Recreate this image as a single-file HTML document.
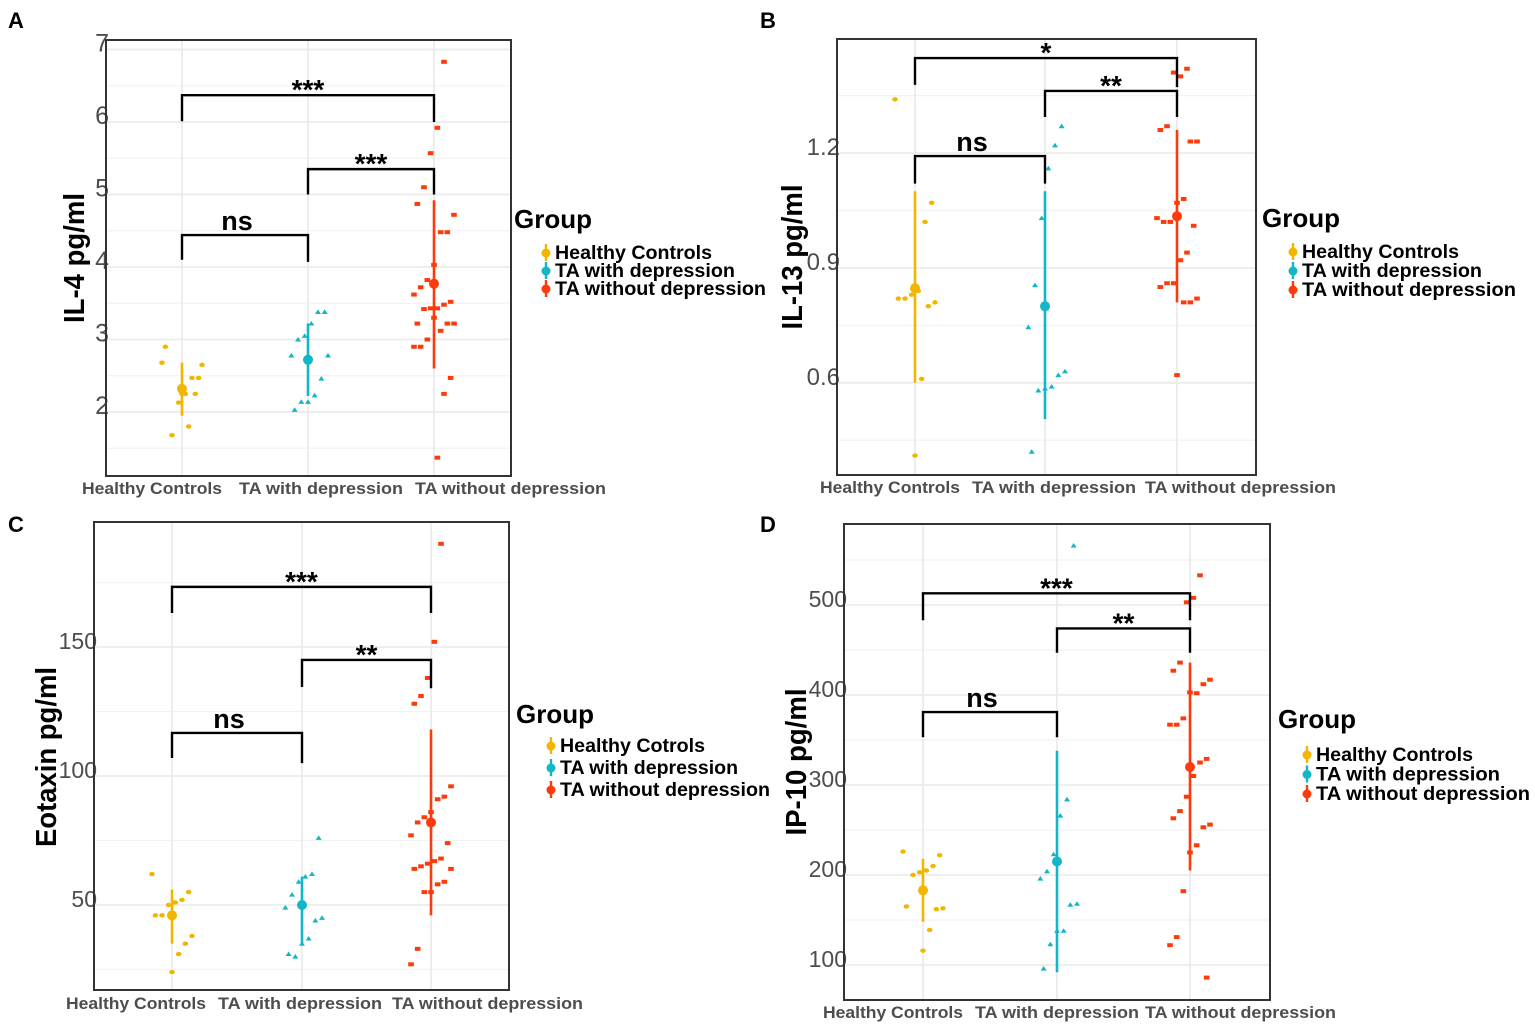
<!DOCTYPE html>
<html><head><meta charset="utf-8"><style>
html,body{margin:0;padding:0;background:#fff;}
svg{display:block;font-family:"Liberation Sans",Arial,sans-serif;}
</style></head><body>
<svg id="fig" width="1535" height="1028" viewBox="0 0 1535 1028" xmlns="http://www.w3.org/2000/svg"></svg>
<script>
// ===== Shared =====
const groups = ["Healthy Controls","TA with depression","TA without depression"];
const colors = ["#f2b600","#12b6c6","#fd3a0c"];

// ===== Panel A: IL-4 =====
const aTicks = [2,3,4,5,6,7];
const aHC = [2.68,2.47,2.47,2.25,2.13,1.68,2.9,2.65,2.25,1.8,2.25];
const aTAw = [3.38,3.38,3.22,3.05,3.0,2.78,2.78,2.46,2.23,2.14,2.14,2.03];
const aTAwo = [6.83,5.92,5.57,5.1,4.87,4.72,4.48,4.48,4.03,3.82,3.72,3.62,3.52,3.48,3.43,3.43,3.42,3.22,3.22,3.22,3.12,3.3,3.0,2.9,2.9,2.47,2.25,1.37];
const aMean = [2.32,2.72,3.77];
const aLow = [1.95,2.22,2.6];
const aHigh = [2.68,3.22,4.92];
const aBrackets = [[0,1,4.44,4.1,4.07],[0,2,6.37,6.01,6.0],[1,2,5.35,5.0,5.0]];
const aSig = ["ns","***","***"];

// ===== Panel B: IL-13 =====
const bTicks = [0.6,0.9,1.2];
const bHC = [1.34,1.07,1.02,0.84,0.83,0.82,0.82,0.81,0.80,0.61,0.41];
const bTAw = [1.27,1.22,1.16,1.03,0.855,0.745,0.63,0.62,0.59,0.585,0.58,0.42];
const bTAwo = [1.42,1.40,1.41,1.27,1.26,1.23,1.23,1.08,1.07,1.02,1.02,1.03,1.01,0.94,0.92,0.86,0.86,0.85,0.82,0.81,0.81,0.62];
const bMean = [0.847,0.80,1.035];
const bLow = [0.60,0.505,0.81];
const bHigh = [1.10,1.10,1.26];
const bBrackets = [[0,1,1.192,1.12,1.12],[0,2,1.448,1.378,1.372],[1,2,1.362,1.294,1.294]];
const bSig = ["ns","*","**"];

// ===== Panel C: Eotaxin =====
const cTicks = [50,100,150];
const cHC = [62,55,52,51,50,46,46,38,35,31,24];
const cTAw = [76,62,61,59,54,49,45,44,37,35,30,31];
const cTAwo = [190,152,138,131,128,96,92,91,86,84,82,77,74,68,67,66,65,64,64,59,58,55,55,33,27];
const cMean = [46,50,82];
const cLow = [35,35,46];
const cHigh = [56,61,118];
const cBrackets = [[0,1,116.7,107,105],[0,2,173.3,163.2,163.2],[1,2,145,134.5,134]];
const cSig = ["ns","***","**"];

// ===== Panel D: IP-10 =====
const dTicks = [100,200,300,400,500];
const dHC = [226,222,210,205,203,200,165,163,162,139,116];
const dTAw = [566,284,266,223,204,196,168,167,138,138,123,96];
const dTAwo = [533,508,503,436,427,417,412,402,403,374,367,367,329,325,310,287,271,263,256,253,233,225,182,131,122,86];
const dMean = [183,215,320];
const dLow = [148,92,205];
const dHigh = [218,338,436];
const dBrackets = [[0,1,381,353,353],[0,2,513,483,483],[1,2,474,447,447]];
const dSig = ["ns","***","**"];

const xLabW = [140,164,191];

const NS = "http://www.w3.org/2000/svg";
const svg = document.getElementById("fig");
function mk(tag, attrs, parent, text){
  const e = document.createElementNS(NS, tag);
  for (const k in attrs) e.setAttribute(k, attrs[k]);
  if (text !== undefined) e.textContent = text;
  (parent || svg).appendChild(e);
  return e;
}

function panel(cfg){
  const g = mk("g", {});
  
  
  const {x0,x1,y0,y1,vTop,vBot} = cfg;
  const y = v => y0 + (vTop - v) / (vTop - vBot) * (y1 - y0);
  const x = i => cfg.cx[i];
  const step = cfg.ticks[1]-cfg.ticks[0];
  for (let v = cfg.ticks[0]-step/2; v < vTop; v += step){
    if (v <= vBot) continue;
    const l = mk("line",{x1:x0,x2:x1,y1:y(v),y2:y(v),stroke:"#f2f2f2","stroke-width":1.3},g);
    
    
  }
  cfg.ticks.forEach(v=>{
    const l = mk("line",{x1:x0,x2:x1,y1:y(v),y2:y(v),stroke:"#ebebeb","stroke-width":1.8},g);
    
    
    const t = mk("text",{x:x0+3,y:y(v)+2,"text-anchor":"end","font-size":cfg.tickSize,fill:"#4d4d4d"},g,String(v));
    
    
  });
  [0,1,2].forEach(i=>{
    const l = mk("line",{x1:x(i),x2:x(i),y1:y0,y2:y1,stroke:"#ebebeb","stroke-width":1.8},g);
    
    
  });
  const series = [cfg.hc, cfg.taw, cfg.tawo];
  series.forEach((arr, gi)=>{
    arr.forEach((v, i)=>{
      const jit = (((i*37+gi*11) % 13) - 6) / 6 * 20;
      const px = x(gi) + jit, py = y(v);
      let m;
      if (gi===0) m = mk("ellipse",{cx:px,cy:py,rx:2.8,ry:2.2,fill:colors[0]},g);
      else if (gi===1) m = mk("polygon",{points:`${px-3},${py+2} ${px+3},${py+2} ${px},${py-2.6}`,fill:colors[1]},g);
      else m = mk("rect",{x:px-2.8,y:py-2,width:5.6,height:4,fill:colors[2]},g);
      
      
    });
    const eb = mk("line",{x1:x(gi),x2:x(gi),y1:y(cfg.low[gi]),y2:y(cfg.high[gi]),stroke:colors[gi],"stroke-width":2.6},g);
    
    
    const md = mk("circle",{cx:x(gi),cy:y(cfg.mean[gi]),r:5,fill:colors[gi]},g);
    
    
  });
  cfg.brackets.forEach((b, bi)=>{
    const xa = x(b[0]), xb = x(b[1]);
    const p = mk("path",{d:`M${xa},${y(b[3])} V${y(b[2])} H${xb} V${y(b[4])}`,fill:"none",stroke:"#000","stroke-width":2.4},g);
    
    
    const lab = cfg.sig[bi];
    const t = mk("text",{x:(xa+xb)/2 - (lab==="ns"?8:0),y:y(b[2]) + (lab==="ns"?-5:4),"text-anchor":"middle","font-size":lab==="ns"?27:28,"font-weight":"bold",fill:"#000"},g,lab);
    
    
  });
  const fr = mk("rect",{x:x0,y:y0,width:x1-x0,height:y1-y0,fill:"none",stroke:"#333","stroke-width":2},g);
  
  
  groups.forEach((s,i)=>{
    const t = mk("text",{x:cfg.xlabX[i],y:cfg.xlabY,"text-anchor":"start","font-size":17,"font-weight":"bold",fill:"#4d4d4d",textLength:xLabW[i],lengthAdjust:"spacingAndGlyphs"},g,s);
    
    
  });
  const yt = mk("text",{x:0,y:0,transform:`translate(${cfg.ytX},${cfg.ytY}) rotate(-90)`,"text-anchor":"middle","font-size":29,"font-weight":"bold",fill:"#000",textLength:cfg.ytLen,lengthAdjust:"spacingAndGlyphs"},g,cfg.ytitle);
  
  
  const pl = mk("text",{x:cfg.letter[1],y:cfg.letter[2],"font-size":22,"font-weight":"bold",fill:"#000"},g,cfg.letter[0]);
  
  
  const lg = mk("g",{},g);
  
  
  const gt = mk("text",{x:cfg.leg[0],y:cfg.leg[1],"font-size":26,"font-weight":"bold",fill:"#000"},lg,"Group");
  
  
  cfg.legNames.forEach((s,i)=>{
    const ly = cfg.leg[3] + i*cfg.leg[4];
    const kx = cfg.leg[2] - 9;
    const kl = mk("line",{x1:kx,x2:kx,y1:ly-15,y2:ly+2,stroke:colors[i],"stroke-width":2.4},lg);
    
    
    const kc = mk("circle",{cx:kx,cy:ly-6,r:4.5,fill:colors[i]},lg);
    
    
    const t = mk("text",{x:cfg.leg[2],y:ly,"font-size":19,"font-weight":"bold",fill:"#000",textLength:cfg.legLen[i],lengthAdjust:"spacingAndGlyphs"},lg,s);
    
    
  });
}

panel({name:"panel-a-il4",x0:106,x1:511,y0:40,y1:476,vTop:2+(412-40)/72.5,vBot:2-(476-412)/72.5,
  cx:[182,308,434],ticks:aTicks,tickSize:25,hc:aHC,taw:aTAw,tawo:aTAwo,mean:aMean,low:aLow,high:aHigh,
  brackets:aBrackets,sig:aSig,xlabX:[82,239,415],xlabY:494,ytitle:"IL-4 pg/ml",ytLen:130,ytX:84,ytY:258,letter:["A",8,28],
  leg:[514,228,555,259,18],legLen:[157,180,211],legNames:["Healthy Controls","TA with depression","TA without depression"]});
panel({name:"panel-b-il13",x0:837,x1:1256,y0:39,y1:475,vTop:1.2+(153-39)/383,vBot:1.2-(475-153)/383,
  cx:[915,1045,1177],ticks:bTicks,tickSize:24,hc:bHC,taw:bTAw,tawo:bTAwo,mean:bMean,low:bLow,high:bHigh,
  brackets:bBrackets,sig:bSig,xlabX:[820,972,1145],xlabY:493,ytitle:"IL-13 pg/ml",ytLen:145,ytX:802,ytY:257,letter:["B",760,28],
  leg:[1262,227,1302,258,19],legLen:[157,180,214],legNames:["Healthy Controls","TA with depression","TA without depression"]});
panel({name:"panel-c-eotaxin",x0:94,x1:509,y0:522,y1:990,vTop:50+(905-522)/2.58,vBot:50-(990-905)/2.58,
  cx:[172,302,431],ticks:cTicks,tickSize:23,hc:cHC,taw:cTAw,tawo:cTAwo,mean:cMean,low:cLow,high:cHigh,
  brackets:cBrackets,sig:cSig,xlabX:[66,218,392],xlabY:1009,ytitle:"Eotaxin pg/ml",ytLen:180,ytX:56,ytY:757,letter:["C",8,532],
  leg:[516,723,560,752,22],legLen:[145,178,210],legNames:["Healthy Cotrols","TA with depression","TA without depression"]});
panel({name:"panel-d-ip10",x0:844,x1:1270,y0:524,y1:1000,vTop:100+(965-524)/0.9,vBot:100-(1000-965)/0.9,
  cx:[923,1057,1190],ticks:dTicks,tickSize:23,hc:dHC,taw:dTAw,tawo:dTAwo,mean:dMean,low:dLow,high:dHigh,
  brackets:dBrackets,sig:dSig,xlabX:[823,975,1145],xlabY:1018,ytitle:"IP-10 pg/ml",ytLen:147,ytX:806,ytY:762,letter:["D",760,532],
  leg:[1278,728,1316,761,19.5],legLen:[157,184,214],legNames:["Healthy Controls","TA with depression","TA without depression"]});
</script>
</body></html>
